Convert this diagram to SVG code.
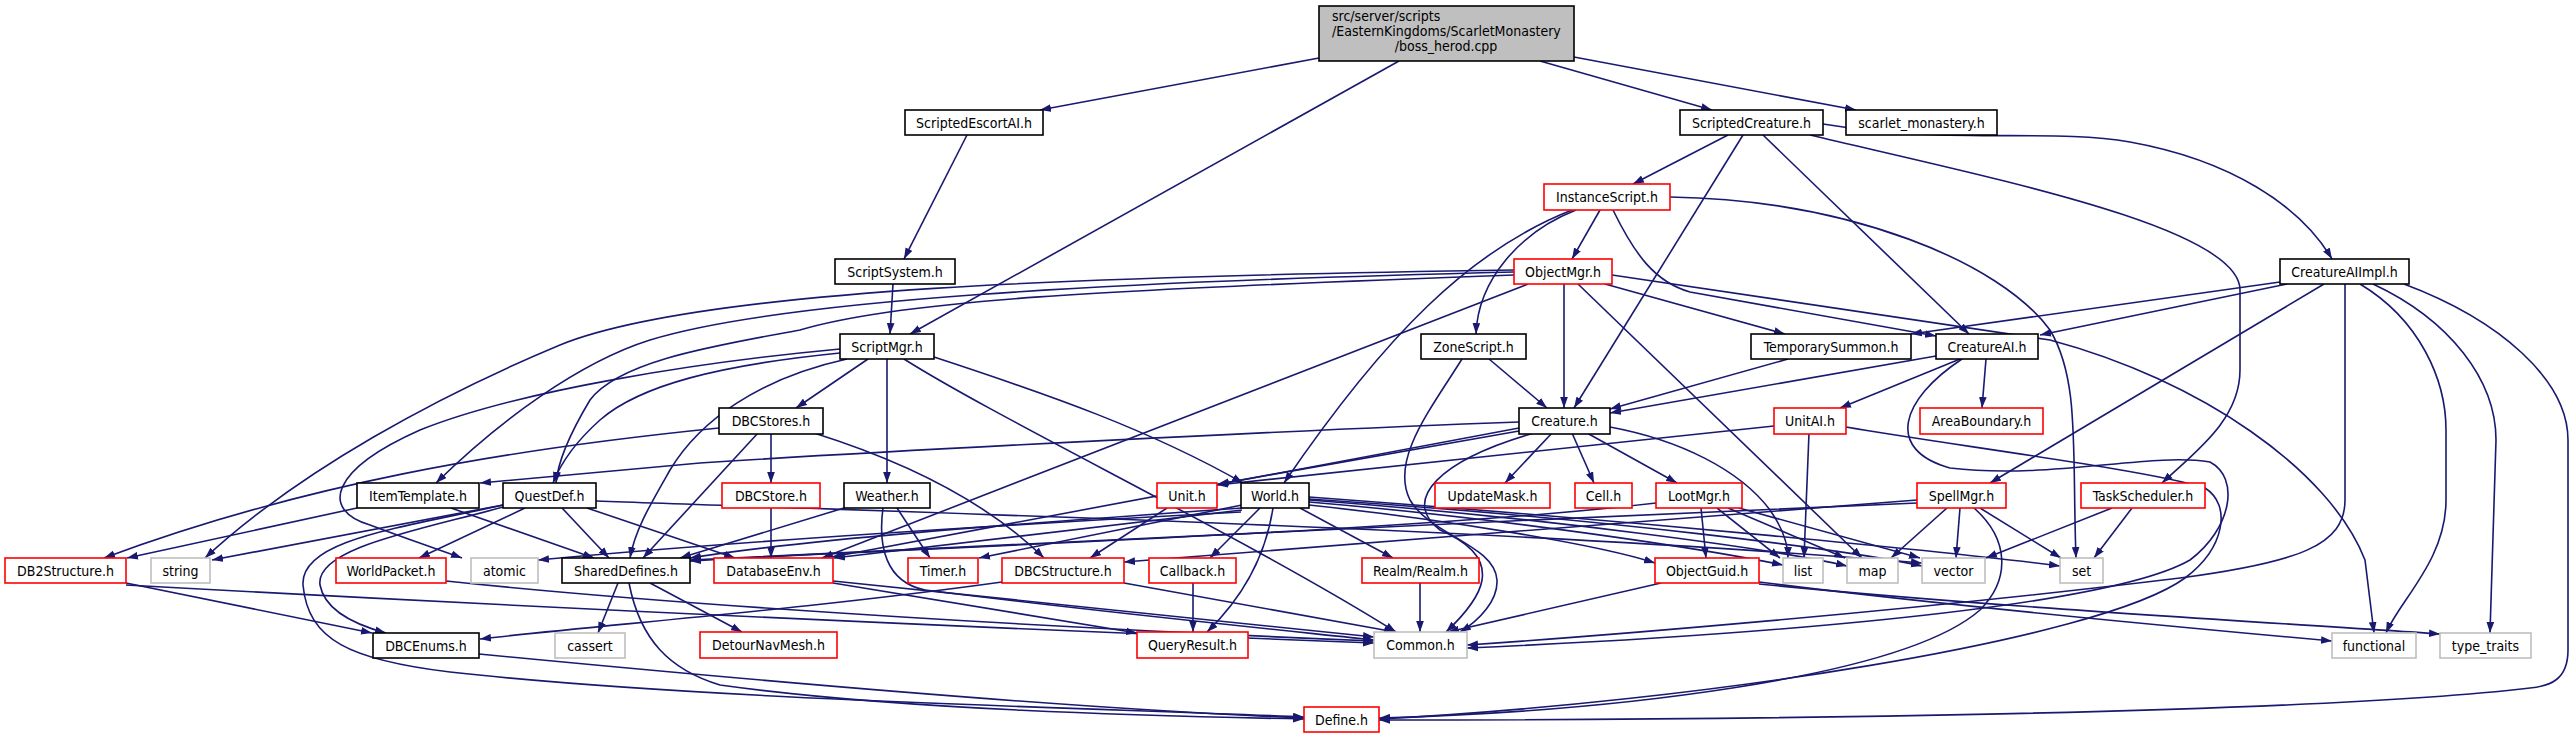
<svg xmlns="http://www.w3.org/2000/svg" width="2576" height="739" viewBox="0 0 2576 739">
<defs>
<marker id="a" viewBox="0 0 10 7" refX="10" refY="3.5" markerWidth="11" markerHeight="8" markerUnits="userSpaceOnUse" orient="auto">
<path d="M0,0 L10,3.5 L0,7 z" fill="#191970"/>
</marker>
<style>
.e path{fill:none;stroke:#191970;stroke-width:1.6;marker-end:url(#a)}
rect{fill:#fff;stroke:#000;stroke-width:1.6}
.r rect{stroke:#ff0000}
.g rect{stroke:#bfbfbf}
text{font-family:"DejaVu Sans Condensed","DejaVu Sans",sans-serif;font-size:14px;fill:#000;text-anchor:middle}
</style>
</defs>
<rect width="2576" height="739" style="fill:#fff;stroke:none"/>
<g class="e" id="edges">
<path d="M1319,58 L1040,110"/>
<path d="M1399,61 L910,334"/>
<path d="M1540,61 L1712,110"/>
<path d="M1574,57 L1856,110"/>
<path d="M967,135 L904,259"/>
<path d="M893,284 L890,334"/>
<path d="M1728,135 L1633,184"/>
<path d="M1743,135 L1574,408"/>
<path d="M1763,135 L1969,334"/>
<path d="M1823,124 C1950,145 2050,128 2130,142 C2230,160 2300,205 2332,259"/>
<path d="M1810,135 C2000,180 2240,228 2240,290 L2240,370 C2240,420 2195,452 2162,483"/>
<path d="M1600,210 L1572,259"/>
<path d="M1576,210 C1520,232 1478,280 1476,334"/>
<path d="M1572,210 C1470,250 1385,335 1284,483"/>
<path d="M1613,210 C1635,255 1655,282 1690,292 L1936,336"/>
<path d="M1670,197 C1850,200 2000,262 2050,330 C2080,380 2072,450 2076,558"/>
<path d="M1564,284 L1564,408"/>
<path d="M1605,284 L1785,334"/>
<path d="M1578,284 L1862,558"/>
<path d="M1612,275 L2050,340 C2200,380 2330,470 2365,560 L2374,633"/>
<path d="M1514,270 C1100,276 700,288 560,345 C440,395 300,470 205,558"/>
<path d="M1514,272 C1100,282 780,300 650,340 C580,362 500,420 436,483"/>
<path d="M1514,275 C1100,290 900,300 800,330 C720,345 620,360 590,400 C572,430 558,460 556,483"/>
<path d="M1528,284 L822,558"/>
<path d="M2287,284 L2040,335"/>
<path d="M2280,282 L1911,334"/>
<path d="M2324,284 L1990,483"/>
<path d="M2345,284 L2345,500 C2345,545 2300,562 2180,578 C1900,612 1600,636 1467,645"/>
<path d="M2360,284 C2420,320 2446,380 2446,430 L2446,500 C2446,560 2400,600 2386,633"/>
<path d="M2373,284 C2450,320 2496,380 2496,440 L2490,633"/>
<path d="M2404,284 C2500,320 2568,380 2568,440 L2568,650 C2568,680 2550,686 2530,688 C2300,715 1700,720 1379,720"/>
<path d="M1936,356 L1610,413"/>
<path d="M1788,359 L1610,409"/>
<path d="M1960,359 L1840,408"/>
<path d="M1986,359 L1982,408"/>
<path d="M1962,359 C1900,400 1885,450 1950,468 C2050,480 2150,452 2210,462 C2240,478 2232,528 2190,560 C2100,612 1700,638 1467,648"/>
<path d="M2132,508 L2094,558"/>
<path d="M2112,508 L1986,558"/>
<path d="M1947,508 L1891,558"/>
<path d="M1960,508 L1956,558"/>
<path d="M1980,508 L2061,558"/>
<path d="M1974,508 C2010,540 2010,580 1980,610 C1900,680 1600,712 1379,718"/>
<path d="M1917,500 L1124,562"/>
<path d="M1917,503 C1500,522 1000,542 690,560"/>
<path d="M1809,433 L1804,558"/>
<path d="M1774,426 L1217,485"/>
<path d="M1846,427 C1950,445 2150,470 2205,488 C2232,505 2225,548 2185,578 C2100,640 1700,702 1379,719"/>
<path d="M1552,433 L1505,483"/>
<path d="M1572,433 L1594,483"/>
<path d="M1587,433 L1677,483"/>
<path d="M1610,427 C1680,440 1740,470 1770,510 C1784,530 1788,545 1788,558"/>
<path d="M1519,431 L1218,484"/>
<path d="M1519,422 C1300,430 900,450 700,463 L480,483"/>
<path d="M1519,428 L832,557"/>
<path d="M1534,433 C1440,460 1400,500 1440,530 C1510,560 1480,600 1446,632"/>
<path d="M1462,359 C1430,410 1390,460 1410,500 C1430,535 1495,545 1497,580 C1498,600 1480,620 1460,632"/>
<path d="M1489,359 L1547,408"/>
<path d="M1701,508 L1706,558"/>
<path d="M1717,508 L1780,558"/>
<path d="M1728,508 L1845,558"/>
<path d="M1739,508 L1920,558"/>
<path d="M1656,503 C1400,533 900,548 690,561"/>
<path d="M1260,508 L1210,558"/>
<path d="M1300,508 L1393,558"/>
<path d="M1273,508 C1265,560 1240,600 1207,632"/>
<path d="M1242,505 L979,558"/>
<path d="M1242,508 C1000,525 800,540 690,558"/>
<path d="M1242,510 L834,558"/>
<path d="M1309,505 C1450,520 1600,545 1655,563"/>
<path d="M1309,502 C1500,518 1700,548 1783,565"/>
<path d="M1309,500 C1550,518 1780,550 1847,566"/>
<path d="M1309,499 C1600,518 1850,550 1922,566"/>
<path d="M1309,497 C1650,522 1950,552 2060,566"/>
<path d="M1241,512 C1000,525 750,540 538,560"/>
<path d="M1167,508 L1090,558"/>
<path d="M897,508 L930,558"/>
<path d="M844,508 L680,558"/>
<path d="M883,508 C878,545 885,582 925,590 C1100,612 1300,632 1374,640"/>
<path d="M771,433 L771,483"/>
<path d="M758,433 L643,558"/>
<path d="M719,428 C500,450 300,485 104,558"/>
<path d="M814,433 C900,460 985,500 1044,558"/>
<path d="M771,508 L771,558"/>
<path d="M562,508 L609,558"/>
<path d="M525,508 L419,558"/>
<path d="M587,508 L735,558"/>
<path d="M503,507 C420,530 315,548 320,585 C325,612 360,626 386,633"/>
<path d="M503,505 C400,528 300,540 303,585 C308,640 350,660 450,672 C700,700 1100,708 1304,717"/>
<path d="M503,505 L212,560"/>
<path d="M596,501 C900,512 1500,528 1922,563"/>
<path d="M357,508 L127,558"/>
<path d="M451,508 L594,558"/>
<path d="M446,581 C700,608 1100,630 1374,641"/>
<path d="M126,583 L372,633"/>
<path d="M126,585 C400,600 900,625 1374,643"/>
<path d="M618,583 L598,633"/>
<path d="M650,583 L742,632"/>
<path d="M629,583 C640,640 670,670 720,685 C900,710 1150,716 1304,719"/>
<path d="M1002,582 C800,610 600,625 480,639"/>
<path d="M479,654 C800,685 1100,710 1304,718"/>
<path d="M833,583 L1137,633"/>
<path d="M833,581 L1374,637"/>
<path d="M1124,583 L1395,632"/>
<path d="M1193,583 L1193,632"/>
<path d="M1420,583 L1420,632"/>
<path d="M1661,583 L1448,632"/>
<path d="M1759,582 C1900,600 2100,620 2332,641"/>
<path d="M1759,584 C2000,608 2300,624 2440,634"/>
<path d="M868,359 L796,408"/>
<path d="M887,359 L887,483"/>
<path d="M934,357 C1050,395 1150,430 1243,483"/>
<path d="M904,359 C1000,420 1250,540 1396,632"/>
<path d="M847,359 C760,378 700,420 670,470 C650,505 635,530 630,558"/>
<path d="M840,353 C720,365 640,385 600,420 C572,445 560,465 553,483"/>
<path d="M840,349 C700,362 520,390 420,430 C330,470 320,510 370,525 C410,540 440,550 462,558"/>
</g>
<g id="node-root"><rect x="1319" y="6" width="255" height="55" style="fill:#bfbfbf"/><text x="1332" y="21" style="text-anchor:start">src/server/scripts</text><text x="1332" y="36" style="text-anchor:start">/EasternKingdoms/ScarletMonastery</text><text x="1446" y="51">/boss_herod.cpp</text></g>
<g id="node-escort"><rect x="905" y="110" width="138" height="25"/><text x="974" y="128">ScriptedEscortAI.h</text></g>
<g id="node-scrcre"><rect x="1680" y="110" width="143" height="25"/><text x="1751.5" y="128">ScriptedCreature.h</text></g>
<g id="node-scarlet"><rect x="1846" y="110" width="151" height="25"/><text x="1921.5" y="128">scarlet_monastery.h</text></g>
<g id="node-inst" class="r"><rect x="1544" y="184" width="126" height="26"/><text x="1607" y="202">InstanceScript.h</text></g>
<g id="node-sys"><rect x="835" y="259" width="120" height="25"/><text x="895" y="277">ScriptSystem.h</text></g>
<g id="node-objmgr" class="r"><rect x="1514" y="259" width="98" height="25"/><text x="1563" y="277">ObjectMgr.h</text></g>
<g id="node-aiimpl"><rect x="2280" y="259" width="129" height="25"/><text x="2344.5" y="277">CreatureAIImpl.h</text></g>
<g id="node-smgr"><rect x="840" y="334" width="94" height="25"/><text x="887" y="352">ScriptMgr.h</text></g>
<g id="node-zone"><rect x="1421" y="334" width="105" height="25"/><text x="1473.5" y="352">ZoneScript.h</text></g>
<g id="node-tsum"><rect x="1751" y="334" width="160" height="25"/><text x="1831" y="352">TemporarySummon.h</text></g>
<g id="node-cai"><rect x="1936" y="334" width="102" height="25"/><text x="1987" y="352">CreatureAI.h</text></g>
<g id="node-dbcstores"><rect x="719" y="408" width="104" height="26"/><text x="771" y="426">DBCStores.h</text></g>
<g id="node-creature"><rect x="1519" y="408" width="91" height="26"/><text x="1564.5" y="426">Creature.h</text></g>
<g id="node-unitai" class="r"><rect x="1774" y="408" width="72" height="26"/><text x="1810" y="426">UnitAI.h</text></g>
<g id="node-areab" class="r"><rect x="1920" y="408" width="123" height="26"/><text x="1981.5" y="426">AreaBoundary.h</text></g>
<g id="node-item"><rect x="357" y="483" width="122" height="25"/><text x="418" y="501">ItemTemplate.h</text></g>
<g id="node-quest"><rect x="503" y="483" width="93" height="25"/><text x="549.5" y="501">QuestDef.h</text></g>
<g id="node-dbcstore" class="r"><rect x="722" y="483" width="98" height="25"/><text x="771" y="501">DBCStore.h</text></g>
<g id="node-weather"><rect x="844" y="483" width="86" height="25"/><text x="887" y="501">Weather.h</text></g>
<g id="node-unit" class="r"><rect x="1157" y="483" width="60" height="25"/><text x="1187" y="501">Unit.h</text></g>
<g id="node-world"><rect x="1241" y="483" width="68" height="25"/><text x="1275" y="501">World.h</text></g>
<g id="node-updm" class="r"><rect x="1435" y="483" width="115" height="25"/><text x="1492.5" y="501">UpdateMask.h</text></g>
<g id="node-cell" class="r"><rect x="1575" y="483" width="57" height="25"/><text x="1603.5" y="501">Cell.h</text></g>
<g id="node-loot" class="r"><rect x="1656" y="483" width="86" height="25"/><text x="1699" y="501">LootMgr.h</text></g>
<g id="node-spell" class="r"><rect x="1917" y="483" width="89" height="25"/><text x="1961.5" y="501">SpellMgr.h</text></g>
<g id="node-task" class="r"><rect x="2081" y="483" width="124" height="25"/><text x="2143" y="501">TaskScheduler.h</text></g>
<g id="node-db2" class="r"><rect x="5" y="558" width="121" height="25"/><text x="65.5" y="576">DB2Structure.h</text></g>
<g id="node-string" class="g"><rect x="151" y="558" width="59" height="25"/><text x="180.5" y="576">string</text></g>
<g id="node-wpkt" class="r"><rect x="336" y="558" width="110" height="25"/><text x="391" y="576">WorldPacket.h</text></g>
<g id="node-atomic" class="g"><rect x="471" y="558" width="67" height="25"/><text x="504.5" y="576">atomic</text></g>
<g id="node-shared"><rect x="562" y="558" width="128" height="25"/><text x="626" y="576">SharedDefines.h</text></g>
<g id="node-dbenv" class="r"><rect x="714" y="558" width="119" height="25"/><text x="773.5" y="576">DatabaseEnv.h</text></g>
<g id="node-timer" class="r"><rect x="908" y="558" width="70" height="25"/><text x="943" y="576">Timer.h</text></g>
<g id="node-dbcstruct" class="r"><rect x="1002" y="558" width="122" height="25"/><text x="1063" y="576">DBCStructure.h</text></g>
<g id="node-callback" class="r"><rect x="1149" y="558" width="87" height="25"/><text x="1192.5" y="576">Callback.h</text></g>
<g id="node-realm" class="r"><rect x="1362" y="558" width="117" height="25"/><text x="1420.5" y="576">Realm/Realm.h</text></g>
<g id="node-oguid" class="r"><rect x="1655" y="558" width="104" height="25"/><text x="1707" y="576">ObjectGuid.h</text></g>
<g id="node-list" class="g"><rect x="1783" y="558" width="40" height="25"/><text x="1803" y="576">list</text></g>
<g id="node-map" class="g"><rect x="1847" y="558" width="51" height="25"/><text x="1872.5" y="576">map</text></g>
<g id="node-vector" class="g"><rect x="1922" y="558" width="63" height="25"/><text x="1953.5" y="576">vector</text></g>
<g id="node-set" class="g"><rect x="2060" y="558" width="43" height="25"/><text x="2081.5" y="576">set</text></g>
<g id="node-dbcenums"><rect x="373" y="633" width="106" height="25"/><text x="426" y="651">DBCEnums.h</text></g>
<g id="node-cassert" class="g"><rect x="555" y="633" width="70" height="25"/><text x="590" y="651">cassert</text></g>
<g id="node-detour" class="r"><rect x="700" y="632" width="137" height="26"/><text x="768.5" y="650">DetourNavMesh.h</text></g>
<g id="node-qres" class="r"><rect x="1137" y="632" width="111" height="26"/><text x="1192.5" y="650">QueryResult.h</text></g>
<g id="node-common" class="g"><rect x="1374" y="632" width="93" height="26"/><text x="1420.5" y="650">Common.h</text></g>
<g id="node-func" class="g"><rect x="2332" y="633" width="84" height="25"/><text x="2374" y="651">functional</text></g>
<g id="node-ttraits" class="g"><rect x="2440" y="633" width="91" height="25"/><text x="2485.5" y="651">type_traits</text></g>
<g id="node-define" class="r"><rect x="1304" y="707" width="75" height="25"/><text x="1341.5" y="725">Define.h</text></g>
</svg>
